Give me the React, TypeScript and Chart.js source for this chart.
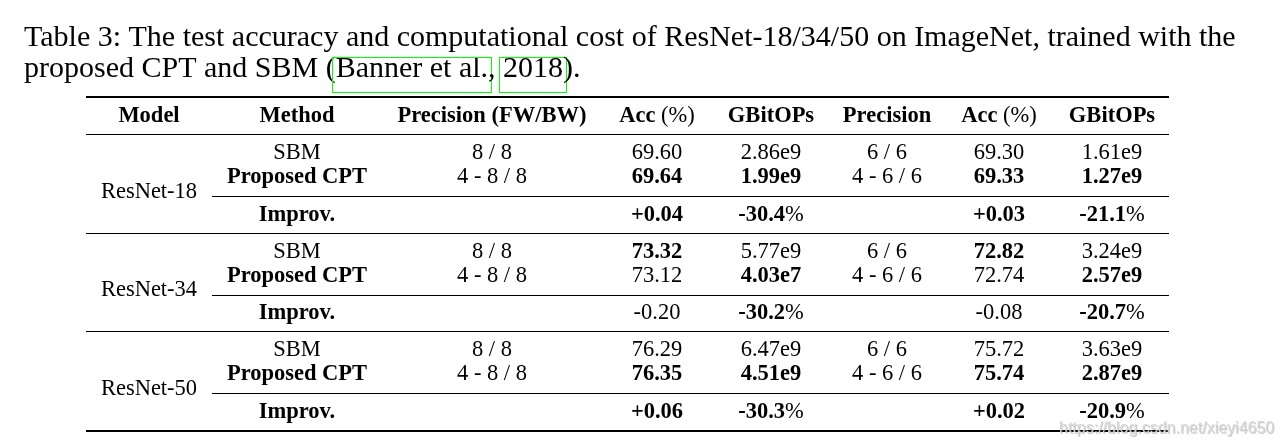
import React, { useEffect, useRef } from 'react';
import { Chart, registerables } from 'chart.js';

Chart.register(...registerables);

// ---------------- data ----------------
const captionLine1 =
  'Table 3: The test accuracy and computational cost of ResNet-18/34/50 on ImageNet, trained with the';
const captionLine2 = [
  { t: 'proposed CPT and SBM (', link: false },
  { t: 'Banner et al.', link: true },
  { t: ', ', link: false },
  { t: '2018', link: true },
  { t: ').', link: false },
];

const headers = ['Model', 'Method', 'Precision (FW/BW)', 'Acc (%)', 'GBitOPs', 'Precision', 'Acc (%)', 'GBitOPs'];
const models = ['ResNet-18', 'ResNet-34', 'ResNet-50'];
const methods = ['SBM', 'Proposed CPT'];
const improvLabel = 'Improv.';
const precisionHigh = ['8 / 8', '4 - 8 / 8'];
const precisionLow = ['6 / 6', '4 - 6 / 6'];
const accHigh = [['69.60', '69.64'], ['73.32', '73.12'], ['76.29', '76.35']];
const gbitHigh = [['2.86e9', '1.99e9'], ['5.77e9', '4.03e7'], ['6.47e9', '4.51e9']];
const accLow = [['69.30', '69.33'], ['72.82', '72.74'], ['75.72', '75.74']];
const gbitLow = [['1.61e9', '1.27e9'], ['3.24e9', '2.57e9'], ['3.63e9', '2.87e9']];
const accHighImprov = ['+0.04', '-0.20', '+0.06'];
const gbitHighImprov = ['-30.4', '-30.2', '-30.3'];
const accLowImprov = ['+0.03', '-0.08', '+0.02'];
const gbitLowImprov = ['-21.1', '-20.7', '-20.9'];
const watermark = 'https://blog.csdn.net/xieyi4650';

// ---------------- layout ----------------
const W = 1282;
const H = 446;
const SERIF = '"Liberation Serif", "Times New Roman", serif';
const bodySize = 22.5;
const captionSize = 30;
const colX = [149, 297, 492, 657, 771, 887, 999, 1112];
const tableLeft = 86;
const tableRight = 1169;
const cmidLeft = 212;
const headerBaseline = 122;
const headerRuleY = 134;
const blockPitch = 98.5;

type Run = { t: string; b: boolean };

const tablePlugin = {
  id: 'tablePlugin',
  beforeDraw(chart: any) {
    const ctx: CanvasRenderingContext2D = chart.ctx;
    const xs = chart.scales.x;
    const ys = chart.scales.y;
    const X = (v: number) => xs.getPixelForValue(v);
    const Y = (v: number) => ys.getPixelForValue(v);

    ctx.save();
    ctx.fillStyle = '#ffffff';
    ctx.fillRect(0, 0, chart.width, chart.height);

    const font = (bold: boolean, size: number) => `${bold ? 'bold ' : ''}${size}px ${SERIF}`;

    const drawRuns = (runs: Run[], cx: number, baseline: number, size = bodySize) => {
      let total = 0;
      runs.forEach((r) => {
        ctx.font = font(r.b, size);
        total += ctx.measureText(r.t).width;
      });
      let x = X(cx) - total / 2;
      ctx.textAlign = 'left';
      ctx.textBaseline = 'alphabetic';
      ctx.fillStyle = '#000000';
      runs.forEach((r) => {
        ctx.font = font(r.b, size);
        ctx.fillText(r.t, x, Y(baseline));
        x += ctx.measureText(r.t).width;
      });
    };
    const cell = (t: string, b: boolean, cx: number, baseline: number) => drawRuns([{ t, b }], cx, baseline);
    const rule = (y: number, h: number, x0: number, x1: number) => {
      ctx.fillStyle = '#000000';
      ctx.fillRect(X(x0), Math.round(Y(y)), X(x1) - X(x0), h);
    };

    // caption
    ctx.fillStyle = '#000000';
    ctx.textAlign = 'left';
    ctx.textBaseline = 'alphabetic';
    ctx.font = font(false, captionSize);
    ctx.fillText(captionLine1, X(24), Y(46));
    let cxp = X(24);
    const b2 = Y(77);
    captionLine2.forEach((p) => {
      ctx.font = font(false, captionSize);
      const w = ctx.measureText(p.t).width;
      ctx.fillStyle = '#000000';
      ctx.fillText(p.t, cxp, b2);
      if (p.link) {
        ctx.strokeStyle = '#00ff00';
        ctx.lineWidth = 1;
        const x0 = Math.round(cxp - 4) + 0.5;
        const x1 = Math.round(cxp + w + 3) + 0.5;
        ctx.strokeRect(x0, Math.round(b2 - 20) + 0.5, x1 - x0, 35);
      }
      cxp += w;
    });

    // rules
    rule(96, 2, tableLeft, tableRight);
    rule(headerRuleY, 1, tableLeft, tableRight);

    // header
    headers.forEach((h, i) => {
      const idx = h.indexOf('(%)');
      const runs: Run[] =
        idx >= 0 ? [{ t: h.slice(0, idx), b: true }, { t: '(%)', b: false }] : [{ t: h, b: true }];
      drawRuns(runs, colX[i], headerBaseline);
    });

    // blocks
    models.forEach((m, bi) => {
      const top = headerRuleY + blockPitch * bi;
      const rowY = [top + 25, top + 49];
      cell(m, false, colX[0], top + 63.5);
      methods.forEach((me, ri) => {
        const y = rowY[ri];
        cell(me, ri === 1, colX[1], y);
        cell(precisionHigh[ri], false, colX[2], y);
        const aH = accHigh[bi];
        cell(aH[ri], Number(aH[ri]) >= Number(aH[1 - ri]), colX[3], y);
        const gH = gbitHigh[bi];
        cell(gH[ri], Number(gH[ri]) <= Number(gH[1 - ri]), colX[4], y);
        cell(precisionLow[ri], false, colX[5], y);
        const aL = accLow[bi];
        cell(aL[ri], Number(aL[ri]) >= Number(aL[1 - ri]), colX[6], y);
        const gL = gbitLow[bi];
        cell(gL[ri], Number(gL[ri]) <= Number(gL[1 - ri]), colX[7], y);
      });
      rule(top + 62, 1, cmidLeft, tableRight);
      const iy = top + 86.5;
      cell(improvLabel, true, colX[1], iy);
      cell(accHighImprov[bi], Number(accHighImprov[bi]) > 0, colX[3], iy);
      drawRuns([{ t: gbitHighImprov[bi], b: true }, { t: '%', b: false }], colX[4], iy);
      cell(accLowImprov[bi], Number(accLowImprov[bi]) > 0, colX[6], iy);
      drawRuns([{ t: gbitLowImprov[bi], b: true }, { t: '%', b: false }], colX[7], iy);
      const ry = headerRuleY + blockPitch * (bi + 1);
      rule(ry, bi === models.length - 1 ? 2 : 1, tableLeft, tableRight);
    });

    // watermark
    ctx.font = '16px "Liberation Sans", Arial, sans-serif';
    ctx.textAlign = 'left';
    ctx.fillStyle = 'rgba(140,140,140,0.45)';
    ctx.fillText(watermark, X(1060), Y(434));
    ctx.fillStyle = 'rgba(215,215,215,0.95)';
    ctx.fillText(watermark, X(1059), Y(433));
    ctx.restore();
  },
};

export default function App() {
  const ref = useRef<HTMLCanvasElement | null>(null);
  useEffect(() => {
    if (!ref.current) return;
    const chart = new Chart(ref.current, {
      type: 'scatter',
      data: { datasets: [] },
      options: {
        responsive: false,
        animation: false,
        events: [],
        layout: { padding: 0 },
        plugins: { legend: { display: false }, tooltip: { enabled: false }, title: { display: false } },
        scales: {
          x: { type: 'linear', min: 0, max: W, display: false },
          y: { type: 'linear', min: 0, max: H, reverse: true, display: false },
        },
      },
      plugins: [tablePlugin],
    });
    return () => chart.destroy();
  }, []);
  return (
    <div style={{ position: 'absolute', left: 0, top: 0, width: W, height: H, background: '#fff' }}>
      <canvas ref={ref} width={W} height={H} style={{ display: 'block', width: W, height: H }} />
    </div>
  );
}
